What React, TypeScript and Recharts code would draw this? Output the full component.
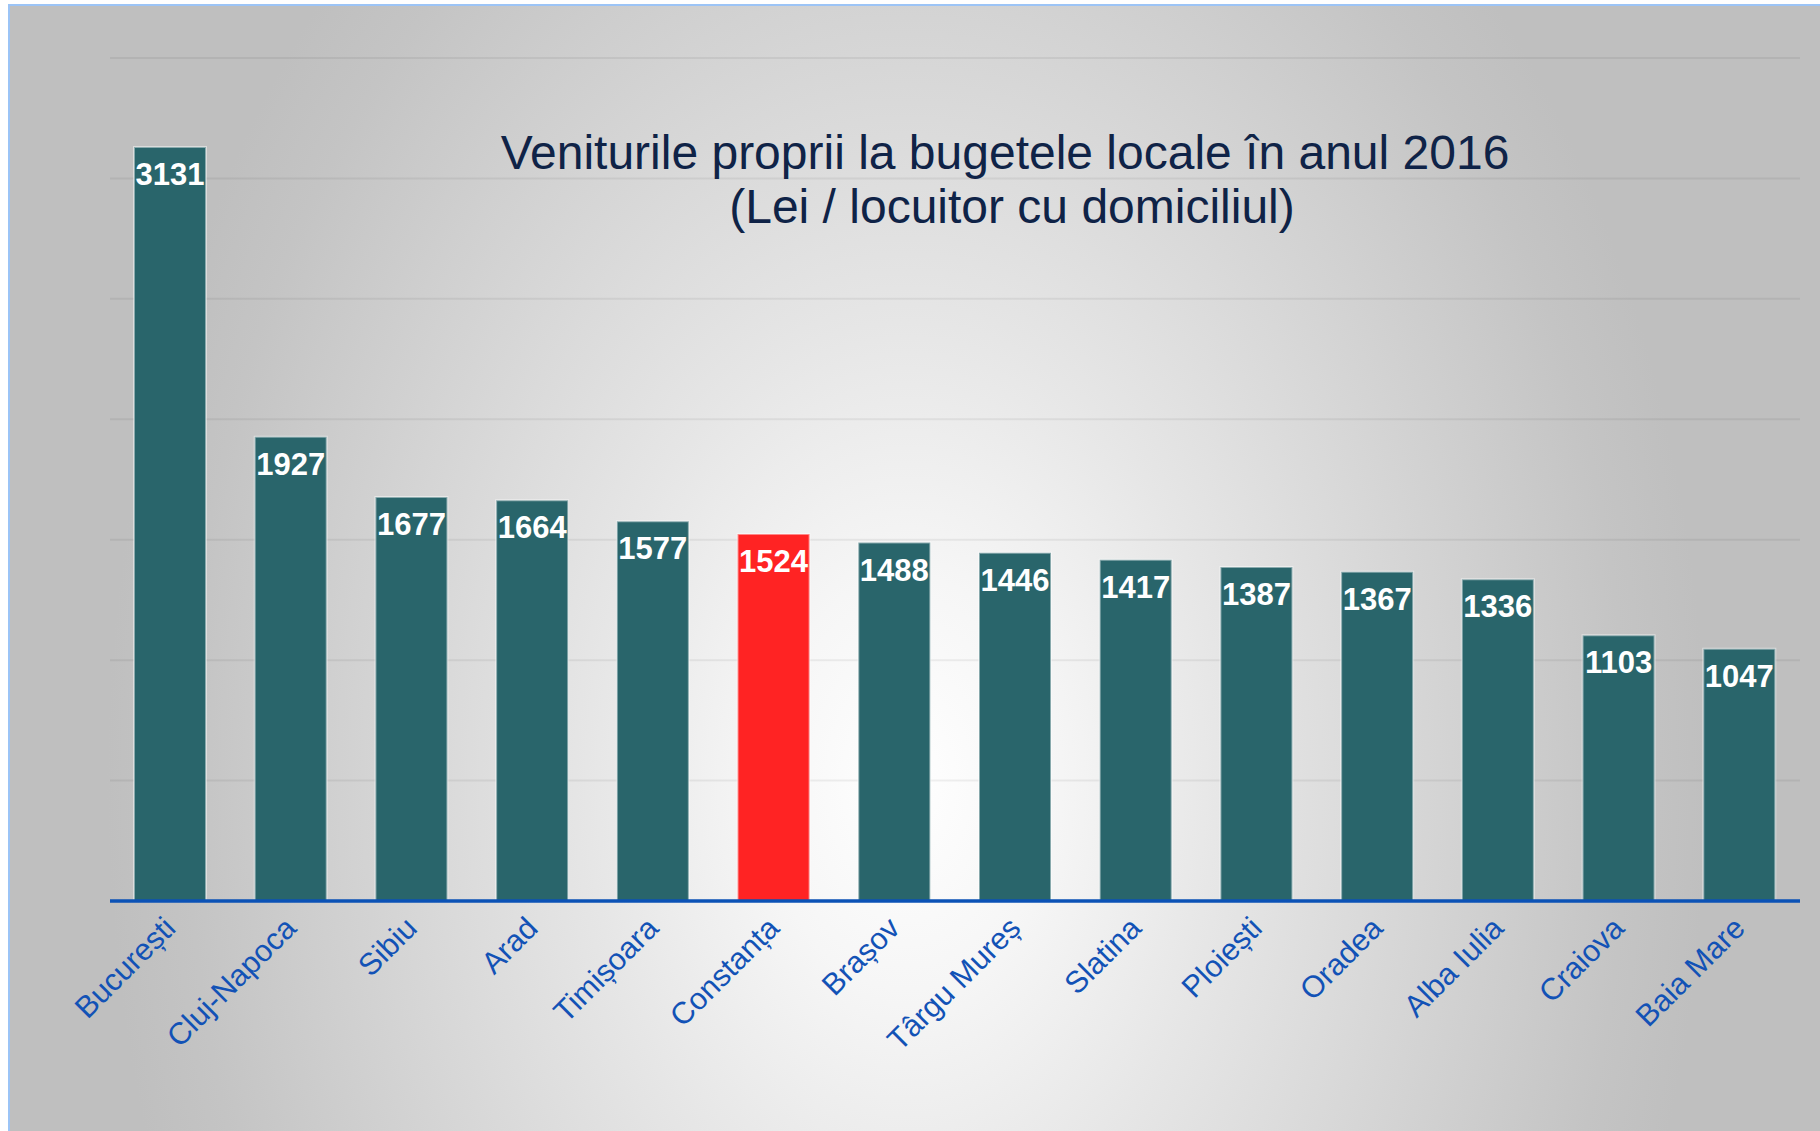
import React from "react";
import { BarChart, Bar, XAxis, YAxis, CartesianGrid, Cell, LabelList } from "recharts";

const cities = [
  "București",
  "Cluj-Napoca",
  "Sibiu",
  "Arad",
  "Timișoara",
  "Constanța",
  "Brașov",
  "Târgu Mureș",
  "Slatina",
  "Ploiești",
  "Oradea",
  "Alba Iulia",
  "Craiova",
  "Baia Mare",
];
const values = [3131, 1927, 1677, 1664, 1577, 1524, 1488, 1446, 1417, 1387, 1367, 1336, 1103, 1047];
const highlightCity = "Constanța";
const yTicks = [0, 500, 1000, 1500, 2000, 2500, 3000, 3500];
const titleLine1 = "Veniturile proprii la bugetele locale în anul 2016";
const titleLine2 = "(Lei / locuitor cu domiciliul)";

const data = cities.map((city, i) => ({ city, value: values[i] }));

const FONT = "'Liberation Sans', Arial, Helvetica, sans-serif";
const TEAL = "#29656b";
const RED = "#ff2323";

const CityTick = (props: any) => {
  const { x, y, payload } = props;
  return (
    <g transform={`translate(${x + 7},${y + 21})`}>
      <text
        transform="rotate(-45)"
        textAnchor="end"
        x={0}
        y={0}
        fill="#1252b6"
        fontSize={30.5}
        fontFamily={FONT}
      >
        {payload.value}
      </text>
    </g>
  );
};

const ValueLabel = (props: any) => {
  const { x, y, width, value } = props;
  return (
    <text
      x={x + width / 2}
      y={y + 38}
      textAnchor="middle"
      fill="#ffffff"
      fontSize={31}
      fontWeight="bold"
      fontFamily={FONT}
    >
      {value}
    </text>
  );
};

export default function App() {
  return (
    <div
      style={{
        position: "absolute",
        left: 0,
        top: 0,
        width: 1820,
        height: 1131,
        overflow: "hidden",
        background: "#ffffff",
      }}
    >
      <div
        style={{
          position: "absolute",
          left: 8,
          top: 4,
          width: 1812,
          height: 1127,
          boxSizing: "border-box",
          borderLeft: "2px solid #9cc4f6",
          borderTop: "2px solid #9cc4f6",
          background:
            "radial-gradient(ellipse 800px 1150px at 897px 776px, #ffffff 0%, #f6f6f6 18%, #e6e6e6 40%, #d3d3d3 68%, #c4c4c4 90%, #bfbfbf 100%)",
        }}
      />
      <div style={{ position: "absolute", left: 0, top: 0 }}>
        <BarChart
          width={1820}
          height={1131}
          data={data}
          margin={{ top: 58, right: 20, left: 110, bottom: 0 }}
        >
          <CartesianGrid vertical={false} stroke="rgba(0,0,0,0.06)" strokeWidth={2} />
          <YAxis hide domain={[0, 3500]} ticks={yTicks} />
          <XAxis
            dataKey="city"
            interval={0}
            height={230}
            tickLine={false}
            axisLine={{ stroke: "#0b52b6", strokeWidth: 3.5 }}
            tick={<CityTick />}
          />
          <Bar
            dataKey="value"
            barSize={72}
            stroke="rgba(255,255,255,0.45)"
            strokeWidth={2}
            isAnimationActive={false}
          >
            {data.map((d) => (
              <Cell key={d.city} fill={d.city === highlightCity ? RED : TEAL} />
            ))}
            <LabelList dataKey="value" content={<ValueLabel />} />
          </Bar>
        </BarChart>
      </div>
      <svg
        width={1820}
        height={1131}
        style={{ position: "absolute", left: 0, top: 0, pointerEvents: "none" }}
      >
        <text x={1005} y={169} textAnchor="middle" fontSize={48} fontFamily={FONT} fill="#0f2347">
          {titleLine1}
        </text>
        <text x={1012} y={223} textAnchor="middle" fontSize={48} fontFamily={FONT} fill="#0f2347">
          {titleLine2}
        </text>
      </svg>
    </div>
  );
}
